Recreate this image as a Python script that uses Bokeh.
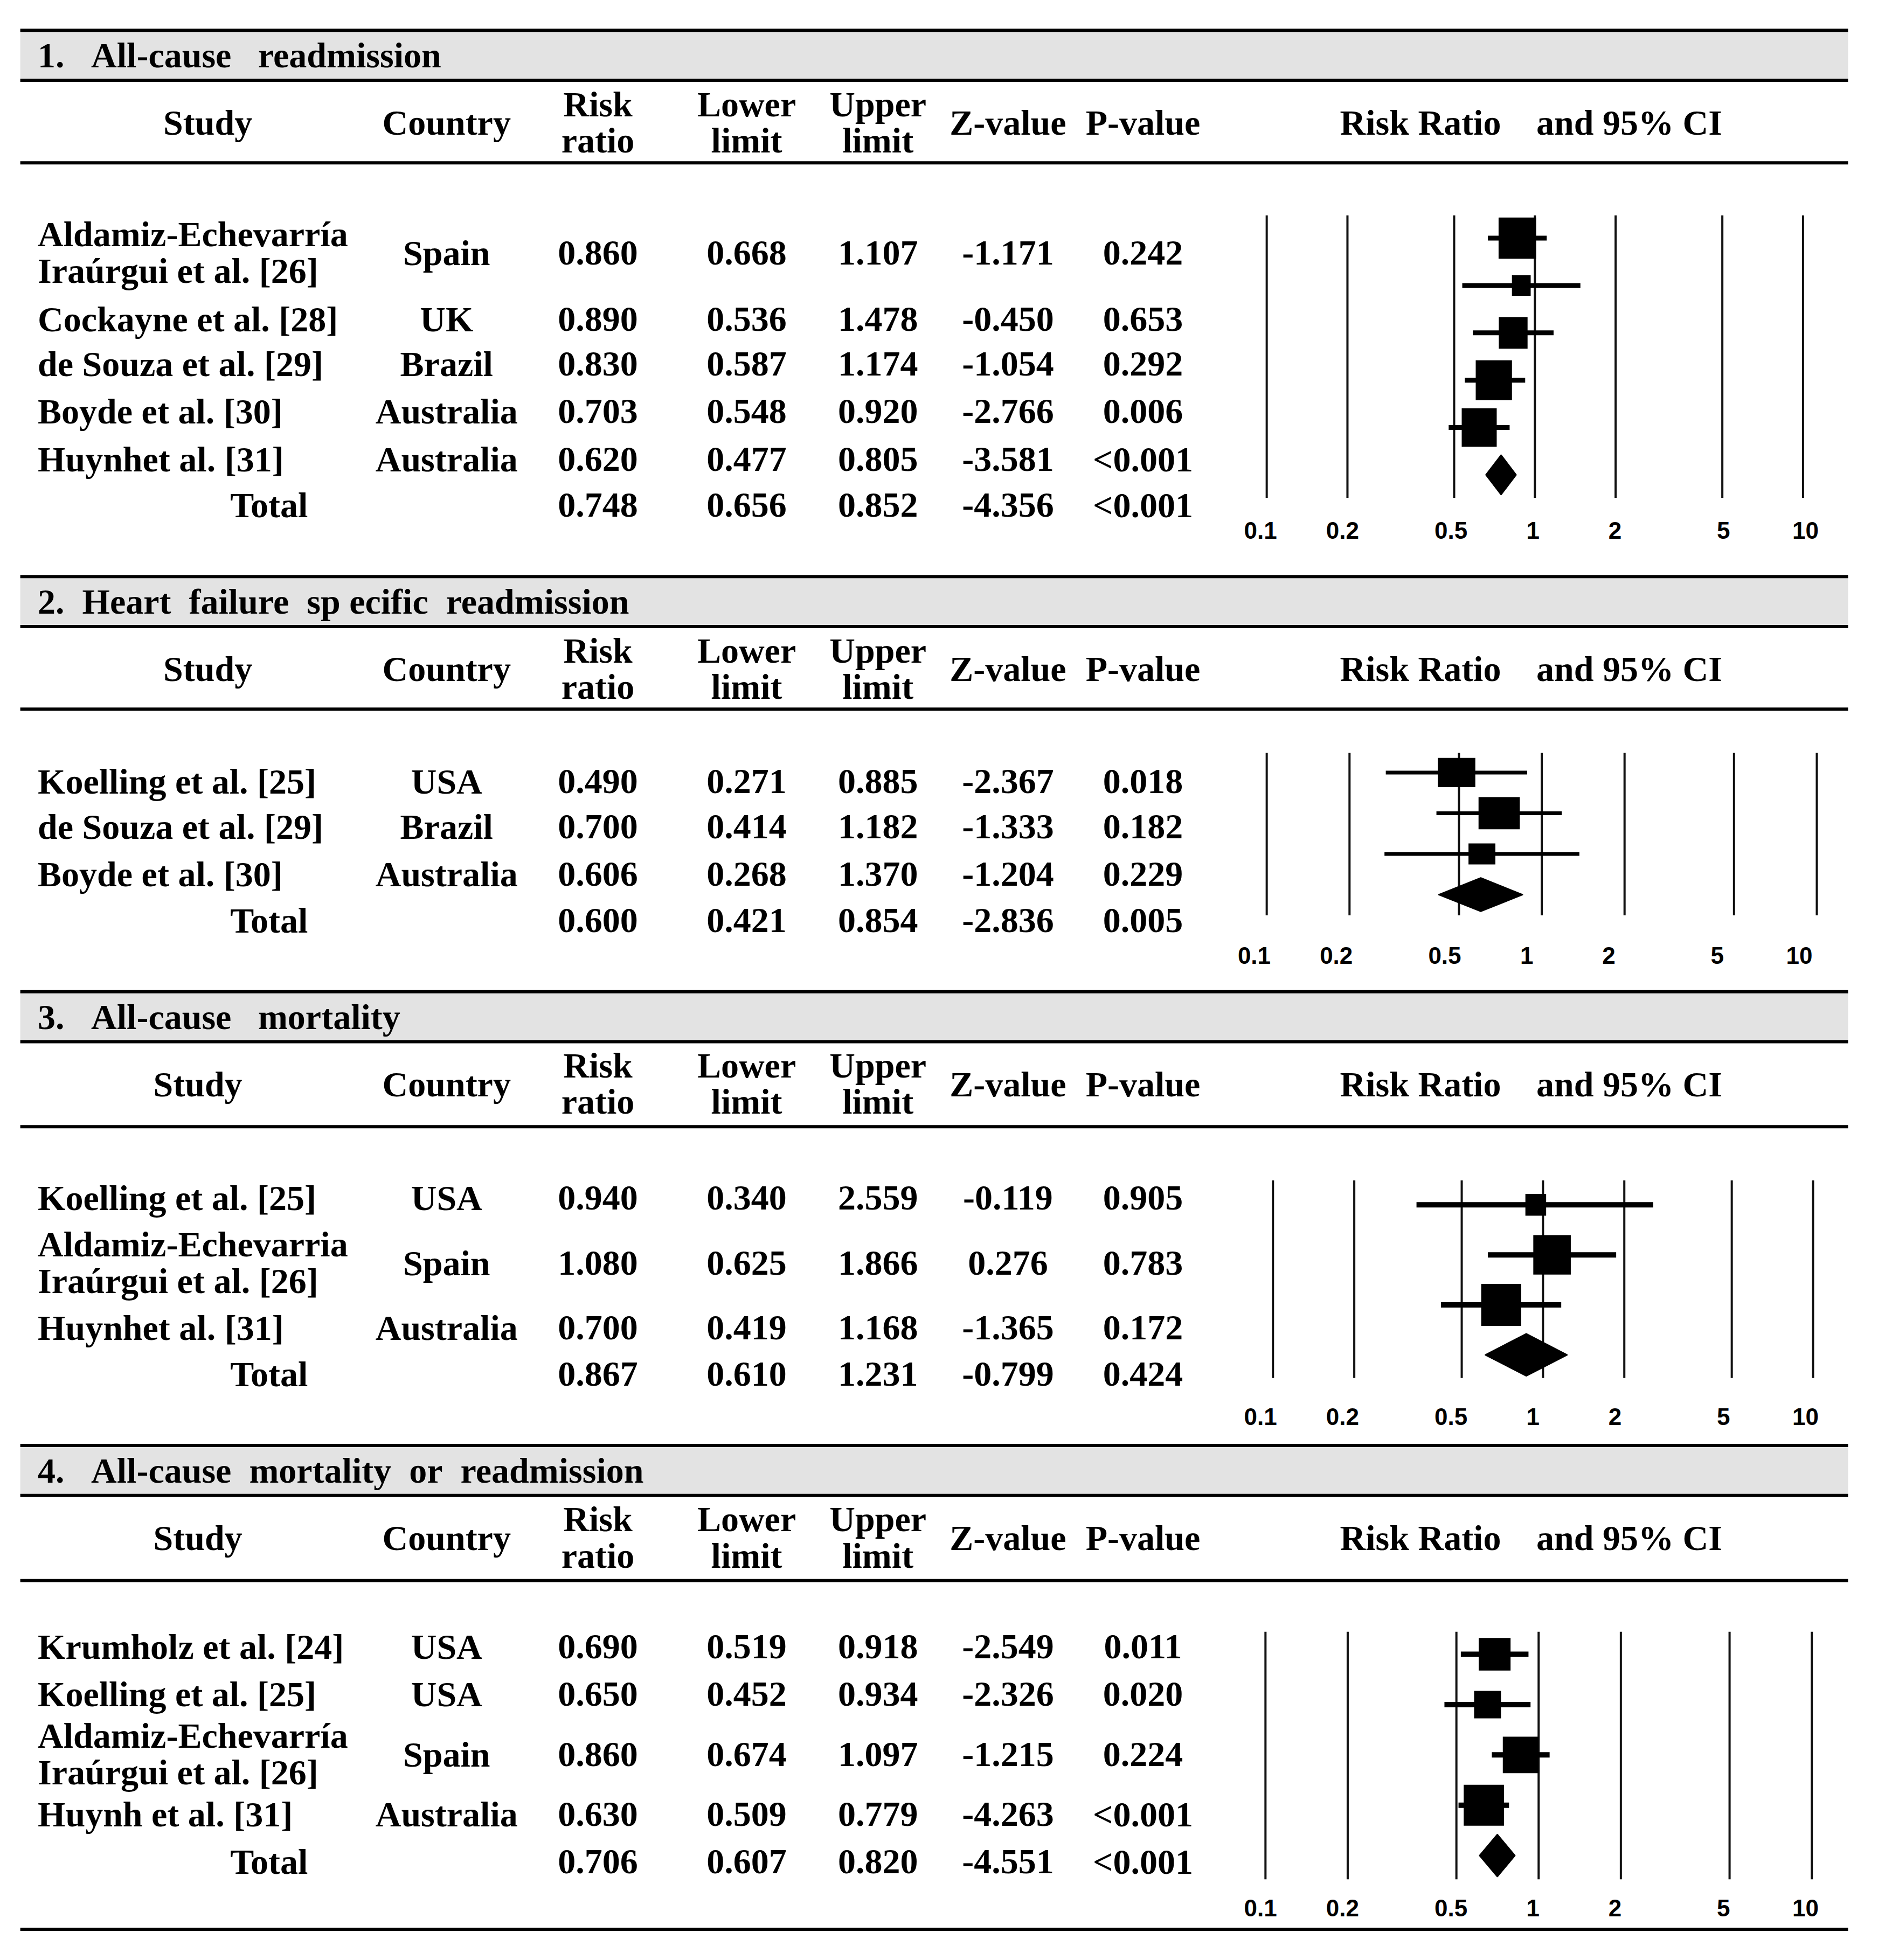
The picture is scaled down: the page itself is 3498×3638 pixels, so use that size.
from bokeh.plotting import figure
from bokeh.models import Range1d, LogScale, ColumnDataSource
from bokeh.core.properties import value
from bokeh.embed import file_html
from bokeh.resources import INLINE

# ---------------- data ----------------
col_headers = ["Study", "Country", "Risk\nratio", "Lower\nlimit", "Upper\nlimit", "Z-value", "P-value"]
plot_header = ["Risk Ratio", "and 95% CI"]
tick_vals = [0.1, 0.2, 0.5, 1, 2, 5, 10]
tick_labels = ["0.1", "0.2", "0.5", "1", "2", "5", "10"]

s1_title = "1.\u00a0\u00a0\u00a0All-cause\u00a0\u00a0\u00a0readmission"
s1_study = ["Aldamiz-Echevarría\nIraúrgui et al. [26]", "Cockayne et al. [28]",
            "de Souza et al. [29]", "Boyde et al. [30]", "Huynhet al. [31]"]
s1_country = ["Spain", "UK", "Brazil", "Australia", "Australia"]
s1_rr = [0.860, 0.890, 0.830, 0.703, 0.620]
s1_lo = [0.668, 0.536, 0.587, 0.548, 0.477]
s1_hi = [1.107, 1.478, 1.174, 0.920, 0.805]
s1_z = [-1.171, -0.450, -1.054, -2.766, -3.581]
s1_p = ["0.242", "0.653", "0.292", "0.006", "<0.001"]
s1_total = [0.748, 0.656, 0.852, -4.356, "<0.001"]
s1_weight = [30, 15, 23, 29, 28]

s2_title = "2.\u00a0\u00a0Heart\u00a0\u00a0failure\u00a0\u00a0sp ecific\u00a0\u00a0readmission"
s2_study = ["Koelling et al. [25]", "de Souza et al. [29]", "Boyde et al. [30]"]
s2_country = ["USA", "Brazil", "Australia"]
s2_rr = [0.490, 0.700, 0.606]
s2_lo = [0.271, 0.414, 0.268]
s2_hi = [0.885, 1.182, 1.370]
s2_z = [-2.367, -1.333, -1.204]
s2_p = ["0.018", "0.182", "0.229"]
s2_total = [0.600, 0.421, 0.854, -2.836, "0.005"]
s2_weight = [30, 33, 21.5]

s3_title = "3.\u00a0\u00a0\u00a0All-cause\u00a0\u00a0\u00a0mortality"
s3_study = ["Koelling et al. [25]", "Aldamiz-Echevarria\nIraúrgui et al. [26]", "Huynhet al. [31]"]
s3_country = ["USA", "Spain", "Australia"]
s3_rr = [0.940, 1.080, 0.700]
s3_lo = [0.340, 0.625, 0.419]
s3_hi = [2.559, 1.866, 1.168]
s3_z = [-0.119, 0.276, -1.365]
s3_p = ["0.905", "0.783", "0.172"]
s3_total = [0.867, 0.610, 1.231, -0.799, "0.424"]
s3_weight = [16.6, 30, 32]

s4_title = "4.\u00a0\u00a0\u00a0All-cause\u00a0\u00a0mortality\u00a0\u00a0or\u00a0\u00a0readmission"
s4_study = ["Krumholz et al. [24]", "Koelling et al. [25]", "Aldamiz-Echevarría\nIraúrgui et al. [26]", "Huynh et al. [31]"]
s4_country = ["USA", "USA", "Spain", "Australia"]
s4_rr = [0.690, 0.650, 0.860, 0.630]
s4_lo = [0.519, 0.452, 0.674, 0.509]
s4_hi = [0.918, 0.934, 1.097, 0.779]
s4_z = [-2.549, -2.326, -1.215, -4.263]
s4_p = ["0.011", "0.020", "0.224", "<0.001"]
s4_total = [0.706, 0.607, 0.820, -4.551, "<0.001"]
s4_weight = [25.5, 21.5, 28.7, 32.2]

sections = [
    dict(title=s1_title, study=s1_study, country=s1_country, rr=s1_rr, lo=s1_lo, hi=s1_hi, z=s1_z, p=s1_p, tot=s1_total, w=s1_weight),
    dict(title=s2_title, study=s2_study, country=s2_country, rr=s2_rr, lo=s2_lo, hi=s2_hi, z=s2_z, p=s2_p, tot=s2_total, w=s2_weight),
    dict(title=s3_title, study=s3_study, country=s3_country, rr=s3_rr, lo=s3_lo, hi=s3_hi, z=s3_z, p=s3_p, tot=s3_total, w=s3_weight),
    dict(title=s4_title, study=s4_study, country=s4_country, rr=s4_rr, lo=s4_lo, hi=s4_hi, z=s4_z, p=s4_p, tot=s4_total, w=s4_weight),
]

# ---------------- layout (in 1500 x 1560 design units) ----------------
layout = [
    dict(top=24, band=64, rule=130, head=98, rows=[202, 255, 291, 329, 367], total=404,
         f_top=172, f_bot=398, f_first=190.3, f_step=37.86, dia_h=32, tick_y=424,
         fx=(1013, 1442), lx=(1008, 1444), ci_w=9, aspect=1.1, study_x=166),
    dict(top=461, band=501, rule=567, head=535, rows=[625, 661, 699], total=736,
         f_top=602, f_bot=732, f_first=617.7, f_step=32.57, dia_h=27, tick_y=764,
         fx=(1013, 1453), lx=(1003, 1439), ci_w=7, aspect=0.78, study_x=166),
    dict(top=793, band=833, rule=901, head=867, rows=[958, 1010, 1062], total=1099,
         f_top=944, f_bot=1102, f_first=963.5, f_step=40.0, dia_h=34, tick_y=1133,
         fx=(1018, 1450), lx=(1008, 1444), ci_w=10, aspect=1.05, study_x=158),
    dict(top=1156, band=1196, rule=1264, head=1230, rows=[1317, 1355, 1403, 1451], total=1489,
         f_top=1305, f_bot=1503, f_first=1323, f_step=40.25, dia_h=34, tick_y=1526,
         fx=(1012, 1449), lx=(1008, 1444), ci_w=10, aspect=1.02, study_x=158),
]
BOTTOM_RULE = 1543
RULE_X = (16, 1478)
COLS = [None, 357, 478, 597, 702, 806, 914]
PH_X = [1136, 1303]
STUDY_LEFT = 30
TOTAL_X = 215

W, H = 3480, 3620
UX, UY = 1500.0, 1560.0
S = W / UX

FS = "66px"
TFS = "44px"
SERIF = "Liberation Serif"
SANS = "Liberation Sans"

p = figure(width=W, height=H, x_range=Range1d(0, UX), y_range=Range1d(UY, 0),
           output_backend="svg", toolbar_location=None,
           x_axis_location=None, y_axis_location=None, min_border=0)
p.grid.visible = False
p.outline_line_color = None
p.background_fill_color = "white"

# extra scales: log x for each forest panel, row-index y for each panel
xr, xs, yr = {}, {}, {}
for i, L in enumerate(layout):
    for key, (a01, a10) in (("f", L["fx"]), ("l", L["lx"])):
        b = (a10 - a01) / 2.0
        lo_e = -a01 / b - 1
        hi_e = (UX - a01) / b - 1
        xr[f"{key}{i}"] = Range1d(10 ** lo_e, 10 ** hi_e)
        xs[f"{key}{i}"] = LogScale()
    first, step = L["f_first"], L["f_step"]
    yr[f"r{i}"] = Range1d((UY - first) / step, -first / step)
p.extra_x_ranges = xr
p.extra_x_scales = xs
p.extra_y_ranges = yr


def txt(xv, yv, tv, align="center", size=FS, font=SERIF, x_range_name="default"):
    src = ColumnDataSource(dict(x=list(xv), y=list(yv), t=list(tv)))
    p.text(x="x", y="y", text="t", source=src, text_align=align, text_baseline="alphabetic",
           text_font=value(font), text_font_style="bold", text_font_size=size,
           text_color="black", x_range_name=x_range_name)


# gray bands
p.quad(left=[RULE_X[0]] * 4, right=[RULE_X[1]] * 4,
       top=[L["top"] for L in layout], bottom=[L["band"] for L in layout],
       fill_color="#e3e3e3", line_color=None)

# rules
rule_y = []
for L in layout:
    rule_y += [L["top"], L["band"], L["rule"]]
rule_y.append(BOTTOM_RULE)
p.segment(x0=[RULE_X[0]] * len(rule_y), x1=[RULE_X[1]] * len(rule_y), y0=rule_y, y1=rule_y,
          line_color="black", line_width=6)

for i, (sec, L) in enumerate(zip(sections, layout)):
    # title
    txt([STUDY_LEFT], [(L["top"] + L["band"]) / 2], [sec["title"]], align="left")

    # column headers
    hx, hy, ht = [], [], []
    for j, h in enumerate(col_headers):
        x = L["study_x"] if j == 0 else COLS[j]
        parts = h.split("\n")
        if len(parts) == 1:
            hx.append(x); hy.append(L["head"]); ht.append(parts[0])
        else:
            hx += [x, x]; hy += [L["head"] - 15, L["head"] + 14]; ht += parts
    hx += PH_X; hy += [L["head"]] * 2; ht += plot_header
    txt(hx, hy, ht)

    # study names (left)
    nx, ny, nt = [], [], []
    for name, yc in zip(sec["study"], L["rows"]):
        parts = name.split("\n")
        if len(parts) == 1:
            nx.append(STUDY_LEFT); ny.append(yc); nt.append(parts[0])
        else:
            nx += [STUDY_LEFT] * 2; ny += [yc - 15, yc + 14.5]; nt += parts
    txt(nx, ny, nt, align="left")
    txt([TOTAL_X], [L["total"]], ["Total"])

    # table values
    cx, cy, ct = [], [], []
    rows = list(zip(sec["country"], sec["rr"], sec["lo"], sec["hi"], sec["z"], sec["p"]))
    for (c, rr, lo, hi, z, pv), yc in zip(rows, L["rows"]):
        vals = [c, f"{rr:.3f}", f"{lo:.3f}", f"{hi:.3f}", f"{z:.3f}", pv]
        for j, v in enumerate(vals):
            cx.append(COLS[j + 1]); cy.append(yc); ct.append(v)
    t = sec["tot"]
    tv = [f"{t[0]:.3f}", f"{t[1]:.3f}", f"{t[2]:.3f}", f"{t[3]:.3f}", t[4]]
    for j, v in enumerate(tv):
        cx.append(COLS[j + 2]); cy.append(L["total"]); ct.append(v)
    txt(cx, cy, ct)

    # forest panel
    fr, rr_name = f"f{i}", f"r{i}"
    n = len(tick_vals)
    p.segment(x0=tick_vals, x1=tick_vals, y0=[L["f_top"]] * n, y1=[L["f_bot"]] * n,
              line_color="#111111", line_width=4, x_range_name=fr)
    txt(tick_vals, [L["tick_y"]] * n, tick_labels, size=TFS, font=SANS, x_range_name=f"l{i}")

    idx = list(range(len(sec["rr"])))
    p.segment(x0=sec["lo"], x1=sec["hi"], y0=idx, y1=idx, line_color="black",
              line_width=L["ci_w"], x_range_name=fr, y_range_name=rr_name)
    p.rect(x=sec["rr"], y=idx, width=[w * S for w in sec["w"]],
           height=[w * S * L["aspect"] for w in sec["w"]],
           width_units="screen", height_units="screen",
           fill_color="black", line_color=None, x_range_name=fr, y_range_name=rr_name)
    k = len(idx)
    hh = L["dia_h"] / 2.0 / L["f_step"]
    p.patch(x=[t[1], t[0], t[2], t[0]], y=[k, k - hh, k, k + hh],
            fill_color="black", line_color="black", line_width=2,
            x_range_name=fr, y_range_name=rr_name)

open("out.html", "w").write(file_html(p, INLINE))
